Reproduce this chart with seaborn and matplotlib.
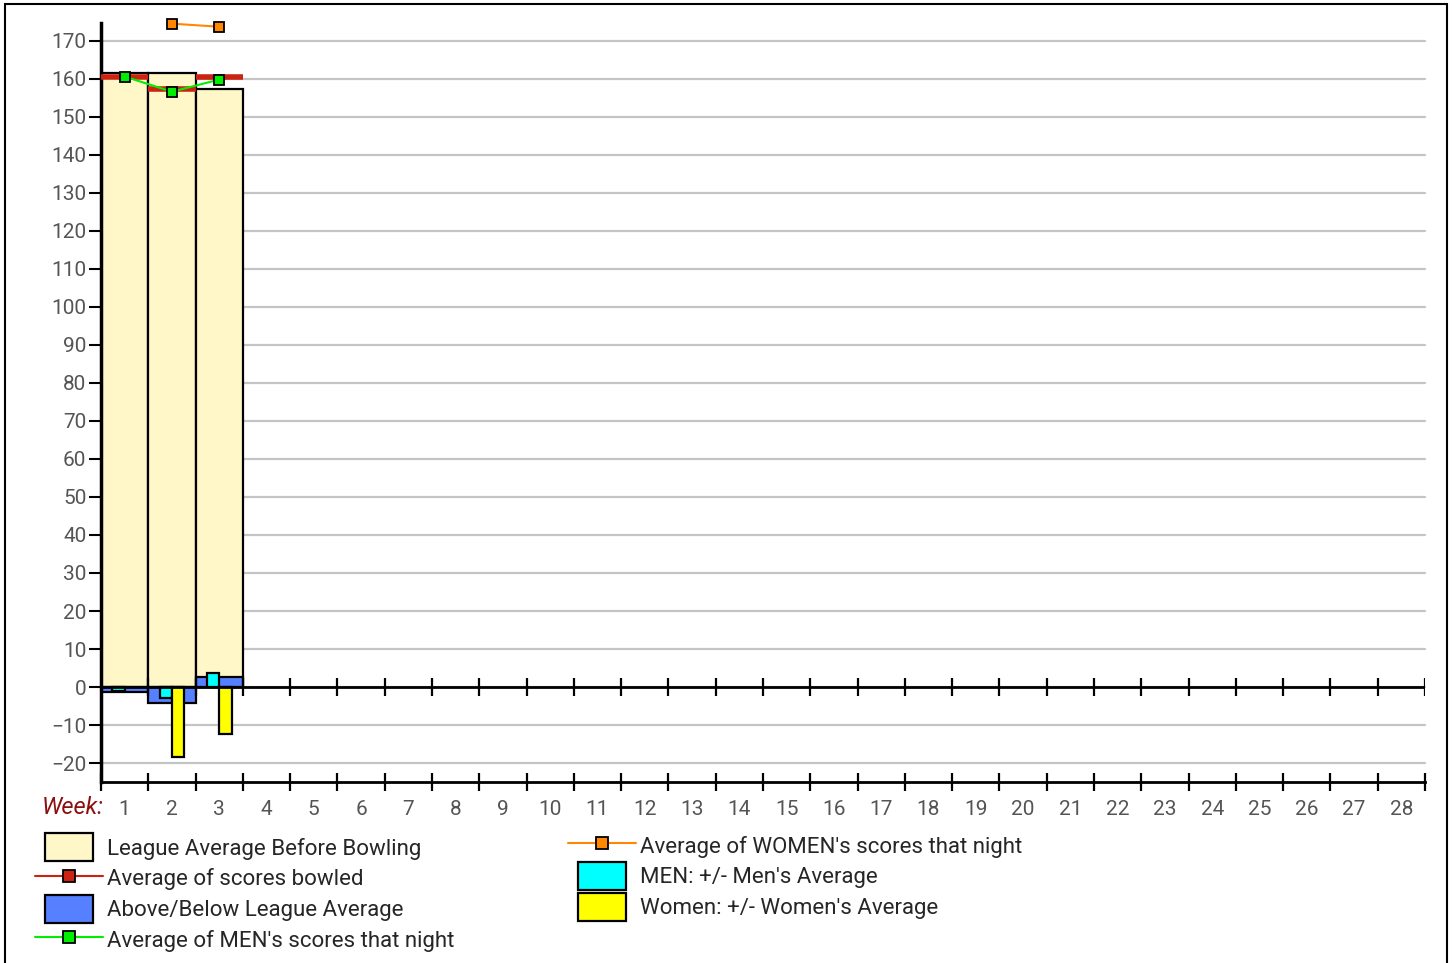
import numpy as np
import pandas as pd
import matplotlib
matplotlib.use('Agg')
import matplotlib.pyplot as plt
import matplotlib.patches as mpatches
from matplotlib.lines import Line2D
from matplotlib.legend_handler import HandlerPatch
import seaborn as sns

# данные по неделям
weeks = [1, 2, 3]
league_avg = [161.4, 161.5, 157.2]      # League Average Before Bowling
avg_bowled = [160.4, 157.4, 160.4]      # Average of scores bowled
above_below = [-1.2, -4.3, 2.6]         # Above/Below League Average
men_diff = [-1.0, -3.0, 3.8]            # MEN: +/- Men's Average
women_diff = [np.nan, -18.5, -12.3]     # Women: +/- Women's Average
men_avg = [160.6, 156.6, 159.8]         # Average of MEN's scores that night
women_weeks = [2, 3]
women_avg = [174.5, 173.7]              # Average of WOMEN's scores that night
week_labels = [str(w) for w in range(1, 29)]

cream = '#fff7c8'
blue = '#5580ff'
cyan = '#00ffff'
yellow = '#ffff00'
red = '#cc2211'
green = '#00ee00'
orange = '#ff8800'

sns.set_style('white')
plt.rcParams['font.family'] = ['Roboto', 'DejaVu Sans']

fig = plt.figure(figsize=(14.52, 9.63), dpi=100)
ax = fig.add_axes([101 / 1452, 1 - 781.7 / 963, (1425 - 101) / 1452, (781.7 - 23.3) / 963])

# горизонтальная сетка
for v in range(-20, 180, 10):
    ax.axhline(v, color='#c4c4c4', lw=1.6, zorder=0)

df_main = pd.DataFrame({'week': weeks, 'league': league_avg, 'diff': above_below})
sns.barplot(data=df_main, x='week', y='league', native_scale=True, width=1.0,
            color=cream, saturation=1, edgecolor='black', linewidth=1.6,
            errorbar=None, ax=ax, zorder=2)
sns.barplot(data=df_main, x='week', y='diff', native_scale=True, width=1.0,
            color=blue, saturation=1, edgecolor='black', linewidth=1.6,
            errorbar=None, ax=ax, zorder=2)

df_mw = pd.DataFrame({
    'week': weeks + weeks,
    'val': men_diff + women_diff,
    'grp': ['men'] * 3 + ['women'] * 3,
}).dropna()
sns.barplot(data=df_mw, x='week', y='val', hue='grp', hue_order=['men', 'women'],
            palette={'men': cyan, 'women': yellow}, native_scale=True, width=0.52,
            dodge=True, saturation=1, edgecolor='black', linewidth=1.6,
            errorbar=None, legend=False, ax=ax, zorder=3)

# среднее сыгранных очков - толстые красные отрезки
w = np.array(weeks)
ax.hlines(avg_bowled, w - 0.5, w + 0.5, color=red, lw=4, zorder=4)

sns.lineplot(x=weeks, y=men_avg, color=green, lw=1.5, marker='s', markersize=6.5,
             markeredgecolor='black', markeredgewidth=1.3, ax=ax, zorder=5)
sns.lineplot(x=women_weeks, y=women_avg, color=orange, lw=1.5, marker='s',
             markersize=6.5, markeredgecolor='black', markeredgewidth=1.3,
             ax=ax, zorder=5)
for line in ax.lines:
    line.set_clip_on(False)

# нулевая линия с рисками
ax.axhline(0, color='black', lw=2, zorder=6)
bounds = np.arange(0.5, 29.0, 1.0)
ax.vlines(bounds[1:], -2.3, 2.3, color='black', lw=1.6, zorder=6)

ax.set_xlim(0.5, 28.5)
ax.set_ylim(-24.9, 174.6)
ax.set_xlabel('')
ax.set_ylabel('')

ax.set_yticks(range(-20, 180, 10))
ax.tick_params(axis='y', length=9, width=1.5, pad=1.5, labelsize=15,
               labelcolor='#555555', color='black', left=True)
ax.set_xticks(bounds)
ax.set_xticklabels([''] * len(bounds))
ax.set_xticks(range(1, 29), minor=True)
ax.set_xticklabels(week_labels, minor=True)
ax.tick_params(axis='x', which='major', direction='inout', length=12.5,
               width=1.6, color='black', bottom=True)
ax.tick_params(axis='x', which='minor', length=0, pad=13, labelsize=15,
               labelcolor='#555555', bottom=True)

for s in ['top', 'right']:
    ax.spines[s].set_visible(False)
ax.spines['left'].set_linewidth(2.5)
ax.spines['left'].set_color('black')
ax.spines['bottom'].set_linewidth(2)
ax.spines['bottom'].set_color('black')

fig.text(104 / 1452, 1 - 808 / 963, 'Week:', ha='right', va='center',
         fontsize=17, style='italic', color='#8b1010')


def narrow_patch(legend, orig_handle, xdescent, ydescent, width, height, fontsize):
    pw = width * 0.7
    ph = height * 1.15
    return mpatches.Rectangle((-xdescent + (width - pw) / 2, -ydescent - (ph - height) / 2),
                              pw, ph)


def make_line(col):
    return Line2D([], [], color=col, lw=1.5, marker='s', markersize=9,
                  markerfacecolor=col, markeredgecolor='black', markeredgewidth=1.3)


h_cream = mpatches.Patch(facecolor=cream, edgecolor='black', lw=1.6)
h_blue = mpatches.Patch(facecolor=blue, edgecolor='black', lw=1.6)
h_cyan = mpatches.Patch(facecolor=cyan, edgecolor='black', lw=1.6)
h_yellow = mpatches.Patch(facecolor=yellow, edgecolor='black', lw=1.6)

hmap = {mpatches.Patch: HandlerPatch(patch_func=narrow_patch)}
leg_kw = dict(loc='upper left', frameon=False, fontsize=16, handlelength=3.06,
              handleheight=1.3, labelspacing=0.28, handletextpad=0.16,
              borderpad=0, borderaxespad=0, handler_map=hmap)

fig.legend([h_cream, make_line(red), h_blue, make_line(green)],
           ['League Average Before Bowling', 'Average of scores bowled',
            'Above/Below League Average', "Average of MEN's scores that night"],
           bbox_to_anchor=(35 / 1452, 1 - 835 / 963), **leg_kw)
fig.legend([make_line(orange), h_cyan, h_yellow],
           ["Average of WOMEN's scores that night", "MEN: +/- Men's Average",
            "Women: +/- Women's Average"],
           bbox_to_anchor=(568 / 1452, 1 - 833 / 963), **leg_kw)

# рамка вокруг рисунка
fig.patches.append(mpatches.Rectangle((5 / 1452, -0.02), (1446.5 - 5) / 1452, 1.02 - 4 / 963,
                                      transform=fig.transFigure, fill=False,
                                      edgecolor='black', lw=1.5))

fig.savefig('out.png', dpi=100)
